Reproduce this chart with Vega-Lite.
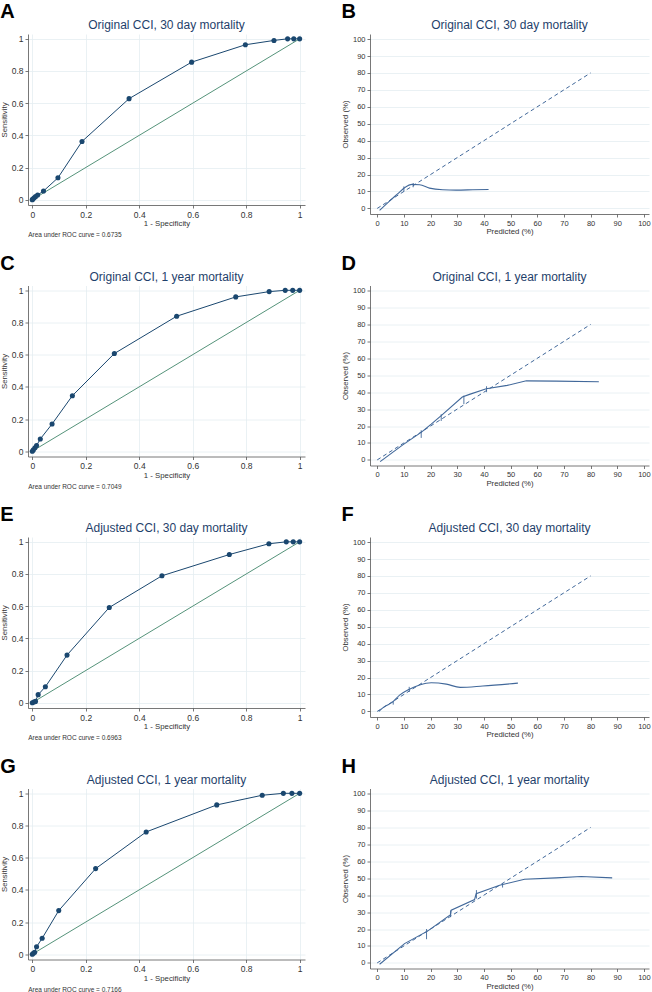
{
  "$schema": "https://vega.github.io/schema/vega-lite/v6.json",
  "background": "white",
  "padding": {"top": 2, "left": 0, "right": 0, "bottom": 0},
  "spacing": 14.5,
  "config": {
    "font": "Liberation Sans",
    "view": {"stroke": null},
    "axis": {"domainColor": "#555555", "tickColor": "#555555", "labelColor": "#333333", "titleColor": "#333333", "gridColor": "#e4eef1", "labelFont": "Liberation Sans", "titleFont": "Liberation Sans", "titleFontWeight": "normal", "tickSize": 3, "labelPadding": 2, "domainWidth": 0.8, "tickWidth": 0.8, "gridWidth": 0.8, "labelFlush": false, "labelOverlap": false},
    "title": {"font": "Liberation Sans", "fontSize": 12, "fontWeight": "normal", "color": "#1f3f6b", "offset": 2},
    "line": {"strokeWidth": 1}
  },
  "datasets": {
    "roc": [
      {"p": "A", "x": 0, "y": 0}, {"p": "A", "x": 0.001, "y": 0.002}, {"p": "A", "x": 0.006, "y": 0.010}, {"p": "A", "x": 0.012, "y": 0.019}, {"p": "A", "x": 0.020, "y": 0.029}, {"p": "A", "x": 0.042, "y": 0.054}, {"p": "A", "x": 0.096, "y": 0.136}, {"p": "A", "x": 0.186, "y": 0.362}, {"p": "A", "x": 0.362, "y": 0.628}, {"p": "A", "x": 0.596, "y": 0.855}, {"p": "A", "x": 0.797, "y": 0.963}, {"p": "A", "x": 0.904, "y": 0.990}, {"p": "A", "x": 0.955, "y": 1}, {"p": "A", "x": 0.978, "y": 1}, {"p": "A", "x": 1, "y": 1},
      {"p": "C", "x": 0, "y": 0}, {"p": "C", "x": 0.004, "y": 0.008}, {"p": "C", "x": 0.010, "y": 0.021}, {"p": "C", "x": 0.016, "y": 0.035}, {"p": "C", "x": 0.030, "y": 0.076}, {"p": "C", "x": 0.074, "y": 0.169}, {"p": "C", "x": 0.150, "y": 0.345}, {"p": "C", "x": 0.307, "y": 0.607}, {"p": "C", "x": 0.540, "y": 0.839}, {"p": "C", "x": 0.761, "y": 0.959}, {"p": "C", "x": 0.886, "y": 0.992}, {"p": "C", "x": 0.946, "y": 1}, {"p": "C", "x": 0.974, "y": 1}, {"p": "C", "x": 1, "y": 1},
      {"p": "E", "x": 0, "y": 0}, {"p": "E", "x": 0.006, "y": 0.004}, {"p": "E", "x": 0.012, "y": 0.008}, {"p": "E", "x": 0.022, "y": 0.050}, {"p": "E", "x": 0.049, "y": 0.099}, {"p": "E", "x": 0.130, "y": 0.296}, {"p": "E", "x": 0.288, "y": 0.592}, {"p": "E", "x": 0.485, "y": 0.789}, {"p": "E", "x": 0.737, "y": 0.921}, {"p": "E", "x": 0.885, "y": 0.988}, {"p": "E", "x": 0.950, "y": 1}, {"p": "E", "x": 0.976, "y": 1}, {"p": "E", "x": 1, "y": 1},
      {"p": "G", "x": 0, "y": 0}, {"p": "G", "x": 0.004, "y": 0.006}, {"p": "G", "x": 0.009, "y": 0.012}, {"p": "G", "x": 0.016, "y": 0.046}, {"p": "G", "x": 0.037, "y": 0.099}, {"p": "G", "x": 0.099, "y": 0.271}, {"p": "G", "x": 0.237, "y": 0.532}, {"p": "G", "x": 0.426, "y": 0.760}, {"p": "G", "x": 0.690, "y": 0.928}, {"p": "G", "x": 0.860, "y": 0.988}, {"p": "G", "x": 0.939, "y": 1}, {"p": "G", "x": 0.971, "y": 1}, {"p": "G", "x": 1, "y": 1}
    ],
    "diag": [{"x": 0, "y": 0}, {"x": 1, "y": 1}],
    "ref": [{"x": 0, "y": 0}, {"x": 80, "y": 80}],
    "cal": [
      {"p": "B", "x": 0.9, "y": -1.2}, {"p": "B", "x": 4.6, "y": 4.3}, {"p": "B", "x": 7.75, "y": 8.7}, {"p": "B", "x": 10.25, "y": 12.2}, {"p": "B", "x": 13.1, "y": 14.2}, {"p": "B", "x": 15.9, "y": 14.0}, {"p": "B", "x": 19.6, "y": 12.0}, {"p": "B", "x": 24.6, "y": 11.0}, {"p": "B", "x": 29.6, "y": 10.8}, {"p": "B", "x": 35.9, "y": 11.0}, {"p": "B", "x": 41.75, "y": 11.2},
      {"p": "D", "x": 1.1, "y": -1.0}, {"p": "D", "x": 9.6, "y": 8.9}, {"p": "D", "x": 16.6, "y": 16.4}, {"p": "D", "x": 20.25, "y": 21.1}, {"p": "D", "x": 24, "y": 26.2}, {"p": "D", "x": 31.9, "y": 37.1}, {"p": "D", "x": 34.6, "y": 38.7}, {"p": "D", "x": 40.9, "y": 42.0}, {"p": "D", "x": 48.75, "y": 44.0}, {"p": "D", "x": 55.9, "y": 46.7}, {"p": "D", "x": 67.1, "y": 46.5}, {"p": "D", "x": 83.1, "y": 46.2},
      {"p": "F", "x": 0.6, "y": 0}, {"p": "F", "x": 2.75, "y": 2.8}, {"p": "F", "x": 5.6, "y": 5.3}, {"p": "F", "x": 8.4, "y": 9.6}, {"p": "F", "x": 11.9, "y": 13.0}, {"p": "F", "x": 15.9, "y": 15.6}, {"p": "F", "x": 20.25, "y": 16.9}, {"p": "F", "x": 25.9, "y": 16.1}, {"p": "F", "x": 31.1, "y": 14.2}, {"p": "F", "x": 39.6, "y": 15.0}, {"p": "F", "x": 52.75, "y": 16.7},
      {"p": "H", "x": 0.9, "y": -0.8}, {"p": "H", "x": 10.25, "y": 11.4}, {"p": "H", "x": 19, "y": 18.9}, {"p": "H", "x": 27.5, "y": 28.5}, {"p": "H", "x": 27.75, "y": 31.1}, {"p": "H", "x": 36.5, "y": 37.4}, {"p": "H", "x": 37.1, "y": 40.9}, {"p": "H", "x": 45.9, "y": 45.9}, {"p": "H", "x": 55.25, "y": 49.4}, {"p": "H", "x": 67.1, "y": 50.2}, {"p": "H", "x": 76.5, "y": 51.0}, {"p": "H", "x": 88.1, "y": 50.2}
    ],
    "spk": [
      {"p": "B", "x": 10, "y": 10, "y2": 13}, {"p": "B", "x": 13.5, "y": 12.5, "y2": 15},
      {"p": "D", "x": 16.5, "y": 13, "y2": 17.5}, {"p": "D", "x": 24, "y": 23, "y2": 27}, {"p": "D", "x": 32.5, "y": 33, "y2": 38}, {"p": "D", "x": 41, "y": 40, "y2": 43.5},
      {"p": "F", "x": 6, "y": 4, "y2": 6}, {"p": "F", "x": 12, "y": 11.5, "y2": 14.5},
      {"p": "H", "x": 18.5, "y": 14, "y2": 20}, {"p": "H", "x": 27.5, "y": 27, "y2": 31}, {"p": "H", "x": 37.2, "y": 38, "y2": 43}, {"p": "H", "x": 47, "y": 44.5, "y2": 47}
    ]
  },
  "vconcat": [
    {"spacing": 36, "hconcat": [
      {"title": {"text": "A", "anchor": "start", "frame": "bounds", "fontSize": 20, "fontWeight": "bold", "color": "#000000", "offset": -3},
       "vconcat": [{"title": {"text": "Area under ROC curve = 0.6735", "orient": "bottom", "anchor": "start", "frame": "bounds", "fontSize": 6.5, "color": "#333333", "dx": 28, "offset": 5},
         "vconcat": [{"title": "Original CCI, 30 day mortality", "width": 277, "height": 171,
           "encoding": {"x": {"field": "x", "type": "quantitative", "scale": {"domain": [-0.016, 1.02], "nice": false, "zero": false}, "axis": {"values": [0, 0.2, 0.4, 0.6, 0.8, 1], "format": "~g", "title": "1 - Specificity", "labelFontSize": 8.5, "titleFontSize": 7.8, "titlePadding": 1, "grid": true}},
                        "y": {"field": "y", "type": "quantitative", "scale": {"domain": [-0.033, 1.03], "nice": false, "zero": false}, "axis": {"values": [0, 0.2, 0.4, 0.6, 0.8, 1], "format": "~g", "title": "Sensitivity", "labelFontSize": 8.5, "titleFontSize": 7.8, "titlePadding": 3, "grid": true}}},
           "layer": [
             {"data": {"name": "diag"}, "mark": {"type": "line", "color": "#55937a", "strokeWidth": 1}, "encoding": {}},
             {"data": {"name": "roc"}, "transform": [{"filter": "datum.p == 'A'"}], "mark": {"type": "line", "color": "#1a476f", "strokeWidth": 1, "point": {"filled": true, "size": 26, "color": "#1a476f"}}, "encoding": {}}
           ]}]}]},
      {"title": {"text": "B", "anchor": "start", "frame": "bounds", "fontSize": 20, "fontWeight": "bold", "color": "#000000", "offset": -3},
       "vconcat": [{"title": "Original CCI, 30 day mortality", "width": 279, "height": 180,
         "encoding": {"x": {"field": "x", "type": "quantitative", "scale": {"domain": [-2.7, 101.9], "nice": false, "zero": false}, "axis": {"values": [0, 10, 20, 30, 40, 50, 60, 70, 80, 90, 100], "title": "Predicted (%)", "labelFontSize": 7.5, "titleFontSize": 7.8, "titlePadding": 1, "grid": false}},
                      "y": {"field": "y", "type": "quantitative", "scale": {"domain": [-3.3, 103], "nice": false, "zero": false}, "axis": {"values": [0, 10, 20, 30, 40, 50, 60, 70, 80, 90, 100], "title": "Observed (%)", "labelFontSize": 7.5, "titleFontSize": 7.8, "titlePadding": 3, "grid": true}}},
         "layer": [
           {"data": {"name": "ref"}, "mark": {"type": "line", "color": "#41689a", "strokeWidth": 1, "strokeDash": [4, 3]}, "encoding": {}},
           {"data": {"name": "cal"}, "transform": [{"filter": "datum.p == 'B'"}], "mark": {"type": "line", "color": "#41689a", "strokeWidth": 1.1, "interpolate": "monotone"}, "encoding": {}},
           {"data": {"name": "spk"}, "transform": [{"filter": "datum.p == 'B'"}], "mark": {"type": "rule", "color": "#41689a", "strokeWidth": 0.9}, "encoding": {"y2": {"field": "y2"}}}
         ]}]}
    ]},
    {"spacing": 36, "hconcat": [
      {"title": {"text": "C", "anchor": "start", "frame": "bounds", "fontSize": 20, "fontWeight": "bold", "color": "#000000", "offset": -3},
       "vconcat": [{"title": {"text": "Area under ROC curve = 0.7049", "orient": "bottom", "anchor": "start", "frame": "bounds", "fontSize": 6.5, "color": "#333333", "dx": 28, "offset": 5},
         "vconcat": [{"title": "Original CCI, 1 year mortality", "width": 277, "height": 171,
           "encoding": {"x": {"field": "x", "type": "quantitative", "scale": {"domain": [-0.016, 1.02], "nice": false, "zero": false}, "axis": {"values": [0, 0.2, 0.4, 0.6, 0.8, 1], "format": "~g", "title": "1 - Specificity", "labelFontSize": 8.5, "titleFontSize": 7.8, "titlePadding": 1, "grid": true}},
                        "y": {"field": "y", "type": "quantitative", "scale": {"domain": [-0.033, 1.03], "nice": false, "zero": false}, "axis": {"values": [0, 0.2, 0.4, 0.6, 0.8, 1], "format": "~g", "title": "Sensitivity", "labelFontSize": 8.5, "titleFontSize": 7.8, "titlePadding": 3, "grid": true}}},
           "layer": [
             {"data": {"name": "diag"}, "mark": {"type": "line", "color": "#55937a", "strokeWidth": 1}, "encoding": {}},
             {"data": {"name": "roc"}, "transform": [{"filter": "datum.p == 'C'"}], "mark": {"type": "line", "color": "#1a476f", "strokeWidth": 1, "point": {"filled": true, "size": 26, "color": "#1a476f"}}, "encoding": {}}
           ]}]}]},
      {"title": {"text": "D", "anchor": "start", "frame": "bounds", "fontSize": 20, "fontWeight": "bold", "color": "#000000", "offset": -3},
       "vconcat": [{"title": "Original CCI, 1 year mortality", "width": 279, "height": 180,
         "encoding": {"x": {"field": "x", "type": "quantitative", "scale": {"domain": [-2.7, 101.9], "nice": false, "zero": false}, "axis": {"values": [0, 10, 20, 30, 40, 50, 60, 70, 80, 90, 100], "title": "Predicted (%)", "labelFontSize": 7.5, "titleFontSize": 7.8, "titlePadding": 1, "grid": false}},
                      "y": {"field": "y", "type": "quantitative", "scale": {"domain": [-3.3, 103], "nice": false, "zero": false}, "axis": {"values": [0, 10, 20, 30, 40, 50, 60, 70, 80, 90, 100], "title": "Observed (%)", "labelFontSize": 7.5, "titleFontSize": 7.8, "titlePadding": 3, "grid": true}}},
         "layer": [
           {"data": {"name": "ref"}, "mark": {"type": "line", "color": "#41689a", "strokeWidth": 1, "strokeDash": [4, 3]}, "encoding": {}},
           {"data": {"name": "cal"}, "transform": [{"filter": "datum.p == 'D'"}], "mark": {"type": "line", "color": "#41689a", "strokeWidth": 1.1}, "encoding": {}},
           {"data": {"name": "spk"}, "transform": [{"filter": "datum.p == 'D'"}], "mark": {"type": "rule", "color": "#41689a", "strokeWidth": 0.9}, "encoding": {"y2": {"field": "y2"}}}
         ]}]}
    ]},
    {"spacing": 36, "hconcat": [
      {"title": {"text": "E", "anchor": "start", "frame": "bounds", "fontSize": 20, "fontWeight": "bold", "color": "#000000", "offset": -3},
       "vconcat": [{"title": {"text": "Area under ROC curve = 0.6963", "orient": "bottom", "anchor": "start", "frame": "bounds", "fontSize": 6.5, "color": "#333333", "dx": 28, "offset": 5},
         "vconcat": [{"title": "Adjusted CCI, 30 day mortality", "width": 277, "height": 171,
           "encoding": {"x": {"field": "x", "type": "quantitative", "scale": {"domain": [-0.016, 1.02], "nice": false, "zero": false}, "axis": {"values": [0, 0.2, 0.4, 0.6, 0.8, 1], "format": "~g", "title": "1 - Specificity", "labelFontSize": 8.5, "titleFontSize": 7.8, "titlePadding": 1, "grid": true}},
                        "y": {"field": "y", "type": "quantitative", "scale": {"domain": [-0.033, 1.03], "nice": false, "zero": false}, "axis": {"values": [0, 0.2, 0.4, 0.6, 0.8, 1], "format": "~g", "title": "Sensitivity", "labelFontSize": 8.5, "titleFontSize": 7.8, "titlePadding": 3, "grid": true}}},
           "layer": [
             {"data": {"name": "diag"}, "mark": {"type": "line", "color": "#55937a", "strokeWidth": 1}, "encoding": {}},
             {"data": {"name": "roc"}, "transform": [{"filter": "datum.p == 'E'"}], "mark": {"type": "line", "color": "#1a476f", "strokeWidth": 1, "point": {"filled": true, "size": 26, "color": "#1a476f"}}, "encoding": {}}
           ]}]}]},
      {"title": {"text": "F", "anchor": "start", "frame": "bounds", "fontSize": 20, "fontWeight": "bold", "color": "#000000", "offset": -3},
       "vconcat": [{"title": "Adjusted CCI, 30 day mortality", "width": 279, "height": 180,
         "encoding": {"x": {"field": "x", "type": "quantitative", "scale": {"domain": [-2.7, 101.9], "nice": false, "zero": false}, "axis": {"values": [0, 10, 20, 30, 40, 50, 60, 70, 80, 90, 100], "title": "Predicted (%)", "labelFontSize": 7.5, "titleFontSize": 7.8, "titlePadding": 1, "grid": false}},
                      "y": {"field": "y", "type": "quantitative", "scale": {"domain": [-3.3, 103], "nice": false, "zero": false}, "axis": {"values": [0, 10, 20, 30, 40, 50, 60, 70, 80, 90, 100], "title": "Observed (%)", "labelFontSize": 7.5, "titleFontSize": 7.8, "titlePadding": 3, "grid": true}}},
         "layer": [
           {"data": {"name": "ref"}, "mark": {"type": "line", "color": "#41689a", "strokeWidth": 1, "strokeDash": [4, 3]}, "encoding": {}},
           {"data": {"name": "cal"}, "transform": [{"filter": "datum.p == 'F'"}], "mark": {"type": "line", "color": "#41689a", "strokeWidth": 1.1, "interpolate": "monotone"}, "encoding": {}},
           {"data": {"name": "spk"}, "transform": [{"filter": "datum.p == 'F'"}], "mark": {"type": "rule", "color": "#41689a", "strokeWidth": 0.9}, "encoding": {"y2": {"field": "y2"}}}
         ]}]}
    ]},
    {"spacing": 36, "hconcat": [
      {"title": {"text": "G", "anchor": "start", "frame": "bounds", "fontSize": 20, "fontWeight": "bold", "color": "#000000", "offset": -3},
       "vconcat": [{"title": {"text": "Area under ROC curve = 0.7166", "orient": "bottom", "anchor": "start", "frame": "bounds", "fontSize": 6.5, "color": "#333333", "dx": 28, "offset": 5},
         "vconcat": [{"title": "Adjusted CCI, 1 year mortality", "width": 277, "height": 171,
           "encoding": {"x": {"field": "x", "type": "quantitative", "scale": {"domain": [-0.016, 1.02], "nice": false, "zero": false}, "axis": {"values": [0, 0.2, 0.4, 0.6, 0.8, 1], "format": "~g", "title": "1 - Specificity", "labelFontSize": 8.5, "titleFontSize": 7.8, "titlePadding": 1, "grid": true}},
                        "y": {"field": "y", "type": "quantitative", "scale": {"domain": [-0.033, 1.03], "nice": false, "zero": false}, "axis": {"values": [0, 0.2, 0.4, 0.6, 0.8, 1], "format": "~g", "title": "Sensitivity", "labelFontSize": 8.5, "titleFontSize": 7.8, "titlePadding": 3, "grid": true}}},
           "layer": [
             {"data": {"name": "diag"}, "mark": {"type": "line", "color": "#55937a", "strokeWidth": 1}, "encoding": {}},
             {"data": {"name": "roc"}, "transform": [{"filter": "datum.p == 'G'"}], "mark": {"type": "line", "color": "#1a476f", "strokeWidth": 1, "point": {"filled": true, "size": 26, "color": "#1a476f"}}, "encoding": {}}
           ]}]}]},
      {"title": {"text": "H", "anchor": "start", "frame": "bounds", "fontSize": 20, "fontWeight": "bold", "color": "#000000", "offset": -3},
       "vconcat": [{"title": "Adjusted CCI, 1 year mortality", "width": 279, "height": 180,
         "encoding": {"x": {"field": "x", "type": "quantitative", "scale": {"domain": [-2.7, 101.9], "nice": false, "zero": false}, "axis": {"values": [0, 10, 20, 30, 40, 50, 60, 70, 80, 90, 100], "title": "Predicted (%)", "labelFontSize": 7.5, "titleFontSize": 7.8, "titlePadding": 1, "grid": false}},
                      "y": {"field": "y", "type": "quantitative", "scale": {"domain": [-3.3, 103], "nice": false, "zero": false}, "axis": {"values": [0, 10, 20, 30, 40, 50, 60, 70, 80, 90, 100], "title": "Observed (%)", "labelFontSize": 7.5, "titleFontSize": 7.8, "titlePadding": 3, "grid": true}}},
         "layer": [
           {"data": {"name": "ref"}, "mark": {"type": "line", "color": "#41689a", "strokeWidth": 1, "strokeDash": [4, 3]}, "encoding": {}},
           {"data": {"name": "cal"}, "transform": [{"filter": "datum.p == 'H'"}], "mark": {"type": "line", "color": "#41689a", "strokeWidth": 1.1}, "encoding": {}},
           {"data": {"name": "spk"}, "transform": [{"filter": "datum.p == 'H'"}], "mark": {"type": "rule", "color": "#41689a", "strokeWidth": 0.9}, "encoding": {"y2": {"field": "y2"}}}
         ]}]}
    ]}
  ]
}
